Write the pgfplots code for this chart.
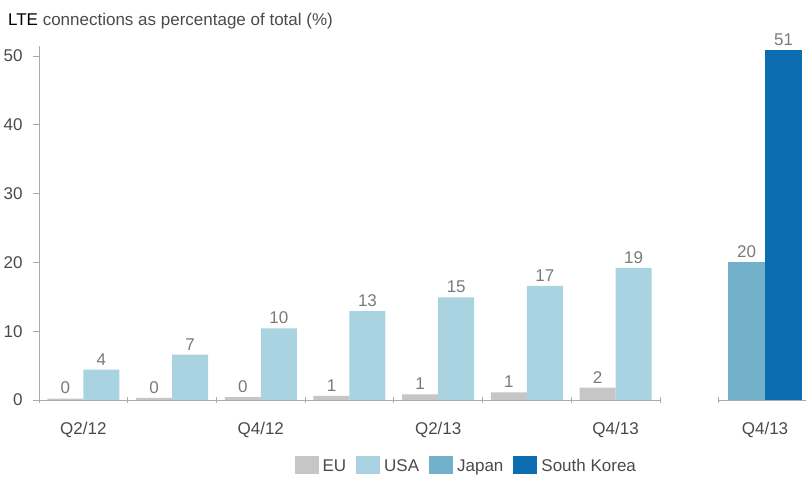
\documentclass[border=0pt]{standalone}
\usepackage{pgfplots}
\pgfplotsset{compat=1.18}
\usepackage{pgfplotstable}
\usepackage{fontspec}
\setmainfont{Liberation Sans}
\definecolor{eu}{HTML}{C6C6C6}
\definecolor{usa}{HTML}{A9D3E0}
\definecolor{jp}{HTML}{72B1C9}
\definecolor{sk}{HTML}{0B6DB0}
\definecolor{axgray}{HTML}{AAAAAA}
\definecolor{txtgray}{HTML}{4A4A4A}
\definecolor{valgray}{HTML}{7A7A7A}
\newcommand\fs{\fontsize{17}{20}\selectfont}
\pgfplotsset{sq legend/.style={legend image code/.code={\fill[##1] (0pt,-8pt) rectangle (24pt,10pt);}}}

\pgfplotstableread{
x y lab
0 0.2 0
1 0.3 0
2 0.4 0
3 0.6 1
4 0.8 1
5 1.1 1
6 1.8 2
}\eudata
\pgfplotstableread{
x y lab
0 4.4 4
1 6.6 7
2 10.4 10
3 12.9 13
4 14.9 15
5 16.6 17
6 19.2 19
}\usadata
\pgfplotstableread{
x y lab
0 20.0 20
}\jpdata
\pgfplotstableread{
x y lab
0 50.9 51
}\skdata

\begin{document}
\begin{tikzpicture}
\begin{axis}[
  at={(39pt,78pt)}, anchor=south west,
  scale only axis, width=621pt, height=354.3pt,
  xmin=-0.5, xmax=6.5, ymin=0, ymax=51.5,
  clip=false,
  axis x line*=bottom, axis y line*=left,
  axis line style={axgray, line width=0.8pt},
  ybar=0pt, bar width=36pt,
  xtick={-0.5,0.5,...,6.5}, xticklabels={},
  extra x ticks={0,2,4,6},
  extra x tick labels={Q2/12,Q4/12,Q2/13,Q4/13},
  extra x tick style={tick style={draw=none}},
  xtick align=center, ytick align=outside,
  major tick length=6pt,
  tick style={axgray, line width=0.8pt},
  ytick={0,10,...,50},
  xticklabel style={font=\fs, text=txtgray, yshift=-16pt},
  yticklabel style={font=\fs, text=txtgray, xshift=-7pt},
  /pgf/number format/assume math mode=true,
  point meta=explicit symbolic,
  nodes near coords,
  every node near coord/.append style={font=\fs, text=valgray, anchor=south, yshift=1pt},
  legend style={at={(0.688,-0.186)}, anchor=center, draw=none, fill=none,
    legend columns=4, font=\fs, text=txtgray,
    /tikz/every odd column/.append style={column sep=2pt},
    /tikz/every even column/.append style={column sep=8pt}},
]
\addplot[fill=eu, draw=none, sq legend] table[x=x, y=y, meta=lab] {\eudata};
\addplot[fill=usa, draw=none, sq legend] table[x=x, y=y, meta=lab] {\usadata};
\addlegendimage{fill=jp, draw=none, sq legend}
\addlegendimage{fill=sk, draw=none, sq legend}
\legend{EU,USA,Japan,South Korea}
\node[anchor=base west, font=\fontsize{17}{20}\selectfont, text=txtgray, inner sep=0pt]
  at (rel axis cs:-0.0500,1.0556) {\textcolor{black}{LTE} connections as percentage of total (\%)};
\end{axis}

\begin{axis}[
  at={(718pt,78pt)}, anchor=south west,
  scale only axis, width=94pt, height=354.3pt,
  xmin=-0.5, xmax=0.5, ymin=0, ymax=51.5,
  clip=false,
  axis x line*=bottom, axis y line=none,
  axis line style={axgray, line width=0.8pt},
  ybar=0pt, bar width=37pt,
  xtick={-0.5,0.5}, xticklabels={},
  extra x ticks={0}, extra x tick labels={Q4/13},
  extra x tick style={tick style={draw=none}},
  xtick align=center, major tick length=6pt,
  tick style={axgray, line width=0.8pt},
  ytick=\empty,
  xticklabel style={font=\fs, text=txtgray, yshift=-16pt},
  point meta=explicit symbolic,
  nodes near coords,
  every node near coord/.append style={font=\fs, text=valgray, anchor=south, yshift=1pt},
]
\addplot[fill=jp, draw=none] table[x=x, y=y, meta=lab] {\jpdata};
\addplot[fill=sk, draw=none] table[x=x, y=y, meta=lab] {\skdata};
\end{axis}
\pgfresetboundingbox
\path (0pt,0pt) rectangle (806pt,478pt);
\end{tikzpicture}
\end{document}
